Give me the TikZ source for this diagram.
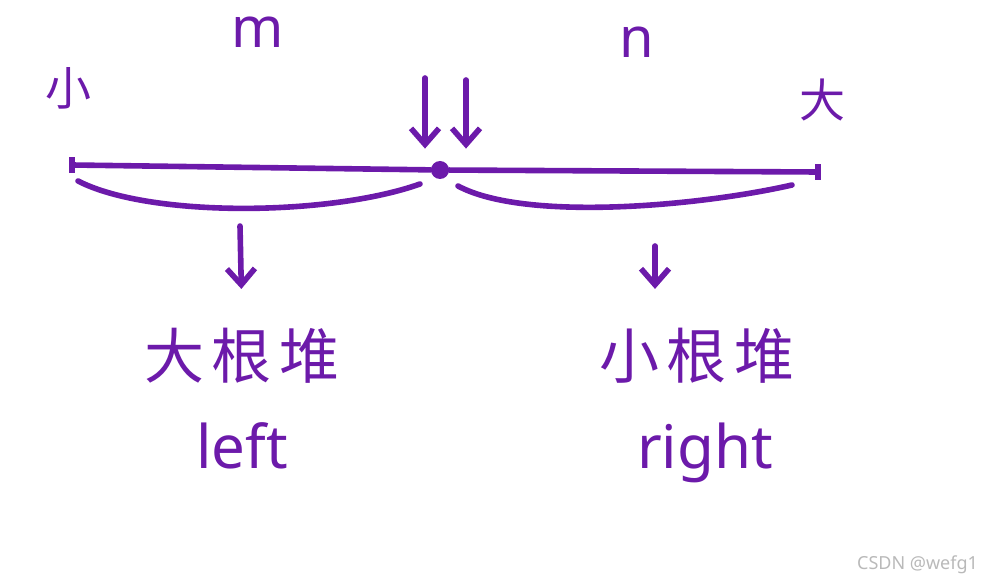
\documentclass[tikz,border=0pt]{standalone}
\usepackage{fontspec}
\setmainfont{Noto Sans}
\newfontfamily\cjk{Noto Sans CJK SC}
\usepackage{tikz}
\usetikzlibrary{arrows.meta,positioning}

\definecolor{pen}{RGB}{108,26,170}

\begin{document}
\begin{tikzpicture}[x=0.5pt, y=-0.5pt,
  stroke/.style={draw=pen, line width=2.8pt, line cap=round},
  down/.style={stroke, -{Straight Barb[length=8pt, width=14pt, line width=2.8pt]}},
  tick/.style={fill=pen, minimum width=2.8pt, minimum height=8pt, inner sep=0pt},
  pivot/.style={circle, fill=pen, minimum size=9pt, inner sep=0pt},
  ends/.style={text=pen, font=\cjk\fontsize{23}{25}\selectfont},
  letter/.style={text=pen, font=\fontsize{28}{30}\selectfont},
  heap/.style={text=pen, font=\cjk\fontsize{30}{32}\selectfont,
    text height=26pt, text depth=4pt},
  word/.style={text=pen, font=\fontsize{30}{34}\selectfont,
    text height=24pt, text depth=7pt},
  watermark/.style={text=gray!55, font=\fontsize{9}{10}\selectfont},
]
  \useasboundingbox (0,0) rectangle (988,582);

  % --- the number line --------------------------------------------
  \node[tick]  (lend) at (72,165)  {};
  \node[pivot] (dot)  at (440,170) {};
  \node[tick]  (rend) at (818,172) {};
  \draw[stroke] (lend) -- (dot) -- (rend);

  % --- labels on top ----------------------------------------------
  \node[ends]   (small) at (68,88)   {小};
  \node[ends]   (big)   at (822,100) {大};
  \node[letter] (m)     at (258,32)  {m};
  \node[letter] (n)     at (637,42)  {n};

  % --- two arrows onto the split point ----------------------------
  \coordinate (lin) at (425,78);
  \coordinate (rin) at (466,80);
  \draw[down, shorten >=6pt] (lin) -- (lin |- dot.north);
  \draw[down, shorten >=6pt] (rin) -- (rin |- dot.north);

  % --- braces under both halves -----------------------------------
  \draw[stroke] (78,181) .. controls (150,218) and (330,216) .. (420,184);
  \draw[stroke] (458,186) .. controls (525,222) and (700,206) .. (792,185);
  \coordinate (larc) at (240,226);
  \coordinate (rarc) at (655,246);

  % --- heaps below ------------------------------------------------
  \node[heap, anchor=base] (lheap) at (242,378) {大\hspace{4pt}根\hspace{4pt}堆};
  \node[word, below=10pt of lheap] (lword) {left};
  \node[heap, anchor=base] (rheap) at (697,378) {小\hspace{4pt}根\hspace{4pt}堆};
  \node[word, below=10pt of rheap, xshift=4pt] (rword) {right};

  \draw[down, shorten >=15pt] (larc) -- (lheap.north);
  \draw[down, shorten >=15pt] (rarc) -- (rarc |- rheap.north);

  \node[watermark, anchor=east] (csdn) at (985,565) {CSDN @wefg1};
\end{tikzpicture}
\end{document}
